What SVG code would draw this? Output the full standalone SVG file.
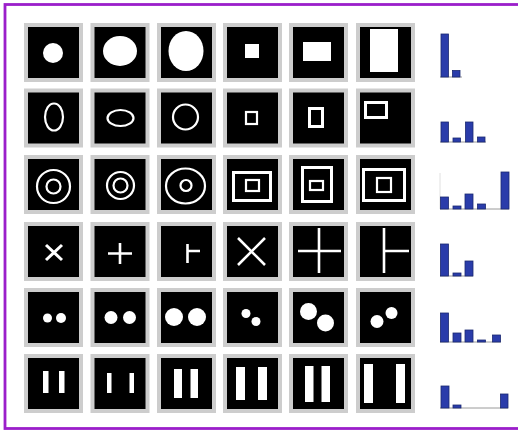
<svg xmlns="http://www.w3.org/2000/svg" width="518" height="430" viewBox="0 0 518 430">
<style>
.bg{fill:#fff}
.frame{fill:none;stroke:#9b1fca;stroke-width:2.8}
.tile{fill:#000;stroke:#cdcdcd;stroke-width:4}
.f{fill:#fff}
.o{fill:none;stroke:#fff;stroke-width:2.2}
.o3{fill:none;stroke:#fff;stroke-width:3}
.l{stroke:#fff;stroke-width:2.6;fill:none}
.bar{fill:#2a3caa;stroke:#1b2870;stroke-width:0.8}
.base{stroke:#9a9a9a;stroke-width:1}
</style>
<rect class="bg" x="0" y="0" width="518" height="430"/>
<rect class="frame" x="5" y="4.5" width="530" height="424"/>

<g id="row1">
<g id="t11"><rect class="tile" x="26" y="25" width="55" height="55"/><circle class="f" cx="53" cy="53" r="10"/></g>
<g id="t12"><rect class="tile" x="92.5" y="25" width="55" height="55"/><ellipse class="f" cx="120" cy="51" rx="17" ry="15"/></g>
<g id="t13"><rect class="tile" x="159" y="25" width="55" height="55"/><ellipse class="f" cx="186" cy="51" rx="17.5" ry="20"/></g>
<g id="t14"><rect class="tile" x="225" y="25" width="55" height="55"/><rect class="f" x="245" y="44" width="14" height="14"/></g>
<g id="t15"><rect class="tile" x="291" y="25" width="55" height="55"/><rect class="f" x="303" y="42" width="28" height="19"/></g>
<g id="t16"><rect class="tile" x="358" y="25" width="55" height="55"/><rect class="f" x="370" y="29" width="28" height="43"/></g>
</g>

<g id="row2">
<g id="t21"><rect class="tile" x="26" y="90.5" width="55" height="55"/><ellipse class="o" cx="54" cy="117" rx="9" ry="13.5"/></g>
<g id="t22"><rect class="tile" x="92.5" y="90.5" width="55" height="55"/><ellipse class="o" cx="120.5" cy="118" rx="13" ry="8"/></g>
<g id="t23"><rect class="tile" x="159" y="90.5" width="55" height="55"/><circle class="o" cx="185.5" cy="117" r="12.5"/></g>
<g id="t24"><rect class="tile" x="225" y="90.5" width="55" height="55"/><rect class="o" x="246" y="112" width="11" height="12"/></g>
<g id="t25"><rect class="tile" x="291" y="90.5" width="55" height="55"/><rect class="o3" x="309.5" y="108.5" width="13" height="18"/></g>
<g id="t26"><rect class="tile" x="358" y="90.5" width="55" height="55"/><rect class="o3" x="365.5" y="102.5" width="21" height="15"/></g>
</g>

<g id="row3">
<g id="t31"><rect class="tile" x="26" y="157" width="55" height="55"/><circle class="o" cx="53.5" cy="186.5" r="16.5"/><circle class="o" cx="53.5" cy="186.5" r="7"/></g>
<g id="t32"><rect class="tile" x="92.5" y="157" width="55" height="55"/><circle class="o" cx="120.5" cy="185.5" r="13.5"/><circle class="o" cx="120.5" cy="185.5" r="7"/></g>
<g id="t33"><rect class="tile" x="159" y="157" width="55" height="55"/><ellipse class="o" cx="185.5" cy="186" rx="19.5" ry="17.5"/><circle class="o" cx="186" cy="185.5" r="5.5"/></g>
<g id="t34"><rect class="tile" x="225" y="157" width="55" height="55"/><rect class="o3" x="233.5" y="172.5" width="37" height="28"/><rect class="o" x="246" y="180" width="13" height="11"/></g>
<g id="t35"><rect class="tile" x="291" y="157" width="55" height="55"/><rect class="o3" x="302.5" y="167.5" width="29" height="34"/><rect class="o" x="310" y="181" width="13" height="9"/></g>
<g id="t36"><rect class="tile" x="358" y="157" width="55" height="55"/><rect class="o3" x="363.5" y="169.5" width="41" height="31"/><rect class="o" x="377" y="178" width="14" height="14"/></g>
</g>

<g id="row4">
<g id="t41"><rect class="tile" x="26" y="224" width="55" height="55"/><path class="l" d="M46 245L62 260M46 260L62 245" style="stroke-width:3"/></g>
<g id="t42"><rect class="tile" x="92.5" y="224" width="55" height="55"/><path class="l" d="M108 253.5H132M120 243V264"/></g>
<g id="t43"><rect class="tile" x="159" y="224" width="55" height="55"/><path class="l" d="M187.5 244V263M187.5 251H200"/></g>
<g id="t44"><rect class="tile" x="225" y="224" width="55" height="55"/><path class="l" d="M238 238L265 265M238 265L265 238"/></g>
<g id="t45"><rect class="tile" x="291" y="224" width="55" height="55"/><path class="l" d="M298 251H341M319 228V273"/></g>
<g id="t46"><rect class="tile" x="358" y="224" width="55" height="55"/><path class="l" d="M384 228V273M384 251H409"/></g>
</g>

<g id="row5">
<g id="t51"><rect class="tile" x="26" y="290" width="55" height="55"/><circle class="f" cx="47.5" cy="318" r="4.5"/><circle class="f" cx="61" cy="318" r="5"/></g>
<g id="t52"><rect class="tile" x="92.5" y="290" width="55" height="55"/><circle class="f" cx="111" cy="317.5" r="6.5"/><circle class="f" cx="129.5" cy="317.5" r="6.5"/></g>
<g id="t53"><rect class="tile" x="159" y="290" width="55" height="55"/><circle class="f" cx="174" cy="317" r="9"/><circle class="f" cx="197" cy="317" r="9"/></g>
<g id="t54"><rect class="tile" x="225" y="290" width="55" height="55"/><circle class="f" cx="246" cy="313.5" r="4.5"/><circle class="f" cx="256" cy="321.5" r="4.5"/></g>
<g id="t55"><rect class="tile" x="291" y="290" width="55" height="55"/><circle class="f" cx="308.5" cy="311.5" r="8.5"/><circle class="f" cx="325.5" cy="323" r="8.5"/></g>
<g id="t56"><rect class="tile" x="358" y="290" width="55" height="55"/><circle class="f" cx="377" cy="321.5" r="6.5"/><circle class="f" cx="391.5" cy="313" r="6"/></g>
</g>

<g id="row6">
<g id="t61"><rect class="tile" x="26" y="356" width="55" height="55"/><rect class="f" x="43" y="371" width="5.5" height="22"/><rect class="f" x="59" y="371" width="5.5" height="22"/></g>
<g id="t62"><rect class="tile" x="92.5" y="356" width="55" height="55"/><rect class="f" x="107" y="373" width="4.5" height="20"/><rect class="f" x="129.5" y="373" width="4.5" height="20"/></g>
<g id="t63"><rect class="tile" x="159" y="356" width="55" height="55"/><rect class="f" x="174" y="369" width="8" height="29"/><rect class="f" x="190.5" y="369" width="7.5" height="29"/></g>
<g id="t64"><rect class="tile" x="225" y="356" width="55" height="55"/><rect class="f" x="236" y="367" width="9" height="33"/><rect class="f" x="258" y="367" width="9" height="33"/></g>
<g id="t65"><rect class="tile" x="291" y="356" width="55" height="55"/><rect class="f" x="305" y="366" width="8.5" height="36"/><rect class="f" x="321.5" y="366" width="8.5" height="36"/></g>
<g id="t66"><rect class="tile" x="358" y="356" width="55" height="55"/><rect class="f" x="364" y="364" width="9" height="39"/><rect class="f" x="396" y="364" width="9" height="39"/></g>
</g>

<g id="histograms">
<g id="h1"><line class="base" x1="440" y1="77" x2="462" y2="77"/><rect class="bar" x="441" y="34" width="7.5" height="43"/><rect class="bar" x="452.5" y="70.5" width="7.5" height="6.5"/></g>
<g id="h2"><line class="base" x1="440" y1="142" x2="486" y2="142"/><rect class="bar" x="441" y="122" width="7.5" height="20"/><rect class="bar" x="453" y="138" width="7.5" height="4"/><rect class="bar" x="465.5" y="122" width="7.5" height="20"/><rect class="bar" x="477.5" y="137" width="7.5" height="5"/></g>
<g id="h3"><line class="base" x1="440" y1="173" x2="440" y2="209" style="stroke:#e0e0e0"/><line class="base" x1="440" y1="209" x2="509" y2="209"/><rect class="bar" x="440.5" y="197" width="8" height="12"/><rect class="bar" x="453" y="206" width="8" height="3"/><rect class="bar" x="465" y="194" width="8" height="15"/><rect class="bar" x="477.5" y="204" width="8" height="5"/><rect class="bar" x="501" y="172" width="8" height="37"/></g>
<g id="h4"><line class="base" x1="440" y1="276" x2="473" y2="276"/><rect class="bar" x="440.5" y="244" width="8" height="32"/><rect class="bar" x="453" y="273" width="8" height="3"/><rect class="bar" x="465" y="261" width="8" height="15"/></g>
<g id="h5"><line class="base" x1="440" y1="342" x2="501" y2="342"/><rect class="bar" x="440.5" y="313" width="8" height="29"/><rect class="bar" x="453" y="333" width="8" height="9"/><rect class="bar" x="465" y="330" width="8" height="12"/><rect class="bar" x="477.5" y="340" width="8" height="2"/><rect class="bar" x="492.5" y="335" width="8" height="7"/></g>
<g id="h6"><line class="base" x1="440" y1="408" x2="508" y2="408"/><rect class="bar" x="441" y="386" width="8" height="22"/><rect class="bar" x="453" y="405" width="8" height="3"/><rect class="bar" x="500.5" y="394" width="7.5" height="14"/></g>
</g>
</svg>
